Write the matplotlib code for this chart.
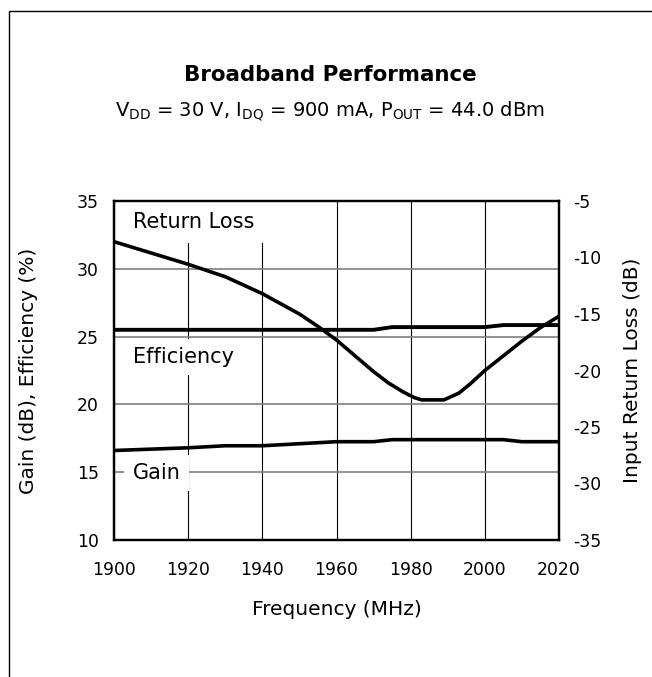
import matplotlib
matplotlib.use("Agg")
import matplotlib.pyplot as plt
from matplotlib.patches import Rectangle

# data
freq_rl = [1900, 1910, 1920, 1930, 1940, 1950, 1955, 1960, 1965, 1970, 1974, 1978,
           1981, 1983, 1986, 1989, 1993, 1996, 2000, 2005, 2010, 2015, 2020]
return_loss = [-8.6, -9.6, -10.6, -11.7, -13.2, -15.0, -16.1, -17.3, -18.7, -20.1, -21.1, -21.9,
               -22.4, -22.6, -22.6, -22.6, -22.0, -21.2, -20.0, -18.7, -17.4, -16.2, -15.2]

freq = [1900, 1910, 1920, 1930, 1940, 1950, 1960, 1970, 1975, 1980, 1990, 2000, 2005, 2010, 2020]
efficiency = [25.5, 25.5, 25.5, 25.5, 25.5, 25.5, 25.5, 25.5, 25.7, 25.7, 25.7, 25.7, 25.85, 25.85, 25.85]
gain = [16.6, 16.7, 16.8, 16.95, 16.95, 17.1, 17.25, 17.25, 17.4, 17.4, 17.4, 17.4, 17.4, 17.25, 17.25]

x_ticks = [1900, 1920, 1940, 1960, 1980, 2000, 2020]
left_ticks = [10, 15, 20, 25, 30, 35]
right_ticks = [-35, -30, -25, -20, -15, -10, -5]

plt.rcParams['font.family'] = ['DejaVu Sans']


def main():
    fig = plt.figure(figsize=(6.52, 6.77), dpi=100)
    ax = fig.add_axes([114 / 652, 1 - 540 / 677, 445 / 652, 339 / 677])
    ax2 = ax.twinx()

    # outer frame (only left and top edges show)
    fig.patches.append(Rectangle((8.7 / 652, -0.5), 2.0, 0.5 + 1 - 10.7 / 677,
                                 transform=fig.transFigure, fill=False,
                                 edgecolor='black', linewidth=1.0))

    ax.set_xlim(1900, 2020)
    ax.set_ylim(10, 35)
    ax2.set_ylim(-35, -5)
    ax.set_xticks(x_ticks)
    ax.set_yticks(left_ticks)
    ax2.set_yticks(right_ticks)
    ax.set_yticklabels([str(v) for v in left_ticks])
    ax2.set_yticklabels([str(v) for v in right_ticks])

    ax.xaxis.grid(True, color='black', linewidth=0.8)
    ax.yaxis.grid(True, color='#808080', linewidth=1.2)
    ax.set_axisbelow(True)

    ax.tick_params(axis='x', length=0, pad=15, labelsize=12.4)
    ax.tick_params(axis='y', length=0, pad=11, labelsize=12.4)
    ax2.tick_params(axis='y', length=0, pad=10, labelsize=12.4)

    for a in (ax, ax2):
        for s in a.spines.values():
            s.set_linewidth(1.6)

    ax.plot(freq, efficiency, color='black', linewidth=2.8, zorder=3)
    ax.plot(freq, gain, color='black', linewidth=2.6, zorder=3)
    ax2.plot(freq_rl, return_loss, color='black', linewidth=2.6, zorder=3)

    box = dict(facecolor='white', edgecolor='none', pad=6)
    ax.text(1905, 33.45, 'Return Loss', fontsize=15, va='center', ha='left',
            bbox=dict(facecolor='white', edgecolor='none', pad=8), zorder=2.5)
    ax.text(1905, 23.5, 'Efficiency', fontsize=15, va='center', ha='left', bbox=box, zorder=2.5)
    ax.text(1905, 14.95, 'Gain', fontsize=15, va='center', ha='left', bbox=box, zorder=2.5)

    ax.set_xlabel('Frequency (MHz)', fontsize=14.5, labelpad=15)
    ax.set_ylabel('Gain (dB), Efficiency (%)', fontsize=14.5, labelpad=28)
    ax2.set_ylabel('Input Return Loss (dB)', fontsize=14.5, labelpad=16)

    fig.text(330 / 652, 1 - 75 / 677, 'Broadband Performance', fontsize=15.4,
             fontweight='bold', ha='center', va='center')
    fig.text(330 / 652, 1 - 111 / 677,
             r'V$_{\mathrm{DD}}$ = 30 V, I$_{\mathrm{DQ}}$ = 900 mA, P$_{\mathrm{OUT}}$ = 44.0 dBm',
             fontsize=14, ha='center', va='center')

    fig.savefig('out.png', dpi=100)
    plt.close(fig)


if __name__ == "__main__":
    main()
